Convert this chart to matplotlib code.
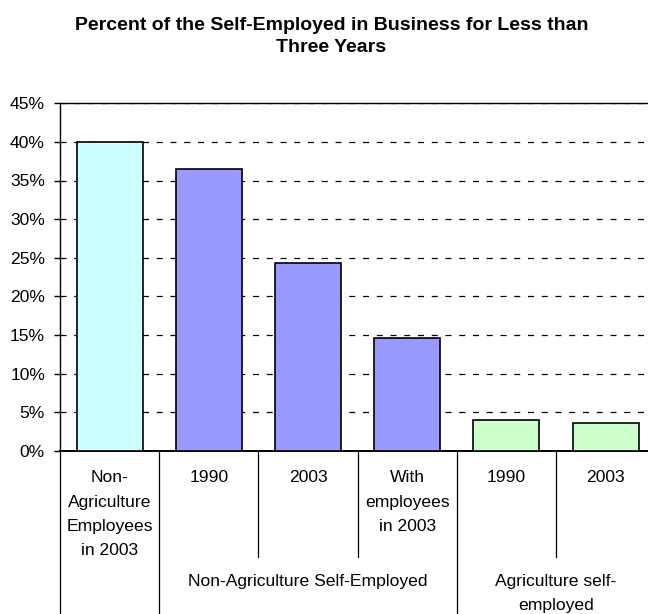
import matplotlib
matplotlib.use("Agg")
import matplotlib.pyplot as plt
import matplotlib.transforms as mtransforms
import numpy as np

# ---------------- data ----------------
title_lines = ["Percent of the Self-Employed in Business for Less than", "Three Years"]
categories = ["Non-\nAgriculture\nEmployees\nin 2003", "1990", "2003",
              "With\nemployees\nin 2003", "1990", "2003"]
values = [40.0, 36.5, 24.3, 14.6, 4.0, 3.6]
bar_colors = ["#CCFFFF", "#9999FF", "#9999FF", "#9999FF", "#CCFFCC", "#CCFFCC"]
group_labels = ["", "Non-Agriculture Self-Employed", "Agriculture self-\nemployed"]
group_sizes = [1, 3, 2]
y_ticks = list(range(0, 50, 5))

plt.rcParams['font.family'] = ['Liberation Sans', 'DejaVu Sans']

W, H = 648, 614
DPI = 100
fig = plt.figure(figsize=(W / DPI, H / DPI), dpi=DPI)
fig.patch.set_facecolor('white')

# plot area in pixels (right edge runs slightly past the figure, as in reference)
ax_l, ax_r, ax_t, ax_b = 60, 655.2, 103.3, 450.7
ax = fig.add_axes([ax_l / W, 1 - ax_b / H, (ax_r - ax_l) / W, (ax_b - ax_t) / H])

x = np.arange(len(values))
ax.bar(x, values, width=0.667, color=bar_colors, edgecolor='black',
       linewidth=1.2, zorder=3)
ax.set_xlim(-0.5, len(values) - 0.5)
ax.set_ylim(0, 45)

ax.set_yticks(y_ticks)
ax.set_yticklabels([f"{t}%" for t in y_ticks], fontsize=12.6)
ax.tick_params(axis='y', length=4.3, width=1.0, pad=6.5, direction='out', color='black')
ax.set_xticks([])

ax.yaxis.grid(True, linestyle=(0, (4.8, 6.2)), color='black', linewidth=0.9)
ax.set_axisbelow(True)

for side in ['left', 'top']:
    ax.spines[side].set_color('black')
    ax.spines[side].set_linewidth(1.0)
ax.spines['bottom'].set_color('black')
ax.spines['bottom'].set_linewidth(1.4)
ax.spines['right'].set_visible(False)

# ---------------- category axis (two levels) ----------------
axis_h = ax_b - ax_t
trans = mtransforms.blended_transform_factory(ax.transData, ax.transAxes)
short_end = -(557 - ax_b) / axis_h
long_end = -0.6

group_edges = set(np.cumsum([0] + group_sizes) - 0.5)
for b in np.arange(len(values) + 1) - 0.5:
    y_end = long_end if b in group_edges else short_end
    ax.plot([b, b], [0, y_end], transform=trans, color='black',
            linewidth=0.9, clip_on=False, zorder=1)

px2pt = 72.0 / DPI
first_base = 31.6 * px2pt
line_step = 24.3 * px2pt
for i, lab in enumerate(categories):
    for j, line in enumerate(lab.split("\n")):
        ax.annotate(line, xy=(i, 0), xycoords=('data', 'axes fraction'),
                    xytext=(0, -(first_base + j * line_step)),
                    textcoords='offset points', ha='center', va='baseline',
                    fontsize=12.6, annotation_clip=False)

group_base = (586 - ax_b) * px2pt
start = 0
for lab, n in zip(group_labels, group_sizes):
    center = start + (n - 1) / 2.0
    start += n
    if not lab:
        continue
    for j, line in enumerate(lab.split("\n")):
        ax.annotate(line, xy=(center, 0), xycoords=('data', 'axes fraction'),
                    xytext=(0, -(group_base + j * line_step)),
                    textcoords='offset points', ha='center', va='baseline',
                    fontsize=12.6, annotation_clip=False)

# ---------------- title ----------------
title_baselines = [30.5, 52.0]
for line, yb in zip(title_lines, title_baselines):
    fig.text(331.5 / W, 1 - yb / H, line, ha='center', va='baseline',
             fontsize=14.0, fontweight='bold')

fig.savefig("out.png", dpi=DPI, facecolor='white')
